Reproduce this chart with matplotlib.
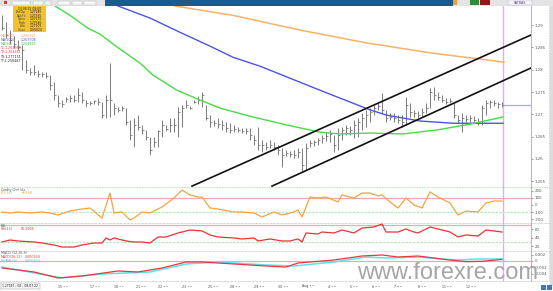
import matplotlib
matplotlib.use("Agg")
import matplotlib.pyplot as plt
from matplotlib.patches import Rectangle
from matplotlib.lines import Line2D

W, H = 553, 291

# price bars, one per bar index
high = [1.2922, 1.2907, 1.2889, 1.2875, 1.2866, 1.2855, 1.2822, 1.2804, 1.2810, 1.2799,
        1.2795, 1.2795, 1.2788, 1.2772, 1.2743, 1.2732, 1.2739, 1.2743, 1.2743, 1.2759,
        1.2750, 1.2732, 1.2730, 1.2732, 1.2736, 1.2727, 1.2743, 1.2815, 1.2725, 1.2716,
        1.2719, 1.2714, 1.2687, 1.2692, 1.2698, 1.2676, 1.2665, 1.2649, 1.2649, 1.2665,
        1.2687, 1.2676, 1.2692, 1.2692, 1.2716, 1.2721, 1.2732, 1.2719, 1.2732, 1.2741,
        1.2750, 1.2721, 1.2698, 1.2687, 1.2692, 1.2687, 1.2683, 1.2681, 1.2676, 1.2672,
        1.2669, 1.2669, 1.2669, 1.2654, 1.2672, 1.2642, 1.2638, 1.2642, 1.2638, 1.2631,
        1.2624, 1.2620, 1.2618, 1.2620, 1.2624, 1.2624, 1.2636, 1.2642, 1.2642, 1.2647,
        1.2654, 1.2660, 1.2665, 1.2654, 1.2669, 1.2672, 1.2676, 1.2674, 1.2687, 1.2692,
        1.2703, 1.2710, 1.2714, 1.2721, 1.2727, 1.2748, 1.2710, 1.2703, 1.2703, 1.2698,
        1.2698, 1.2739, 1.2725, 1.2710, 1.2707, 1.2714, 1.2725, 1.2759, 1.2761, 1.2750,
        1.2743, 1.2736, 1.2736, 1.2725, 1.2698, 1.2703, 1.2698, 1.2698, 1.2696, 1.2692,
        1.2721, 1.2732, 1.2732, 1.2732, 1.2727, 1.2727]
low = [1.2889, 1.2871, 1.2857, 1.2848, 1.2844, 1.2799, 1.2792, 1.2788, 1.2788, 1.2784,
       1.2784, 1.2781, 1.2754, 1.2732, 1.2716, 1.2716, 1.2727, 1.2727, 1.2727, 1.2727,
       1.2725, 1.2716, 1.2721, 1.2723, 1.2721, 1.2692, 1.2692, 1.2694, 1.2698, 1.2705,
       1.2707, 1.2676, 1.2642, 1.2627, 1.2665, 1.2656, 1.2642, 1.2609, 1.2627, 1.2627,
       1.2649, 1.2663, 1.2660, 1.2660, 1.2649, 1.2672, 1.2714, 1.2712, 1.2725, 1.2723,
       1.2716, 1.2687, 1.2672, 1.2674, 1.2669, 1.2665, 1.2660, 1.2658, 1.2660, 1.2660,
       1.2658, 1.2656, 1.2642, 1.2631, 1.2620, 1.2616, 1.2620, 1.2624, 1.2620, 1.2609,
       1.2582, 1.2607, 1.2604, 1.2602, 1.2602, 1.2571, 1.2575, 1.2627, 1.2629, 1.2631,
       1.2636, 1.2640, 1.2638, 1.2616, 1.2620, 1.2642, 1.2654, 1.2654, 1.2647, 1.2649,
       1.2665, 1.2672, 1.2683, 1.2698, 1.2710, 1.2703, 1.2683, 1.2687, 1.2683, 1.2681,
       1.2672, 1.2676, 1.2694, 1.2694, 1.2692, 1.2694, 1.2703, 1.2714, 1.2732, 1.2732,
       1.2727, 1.2723, 1.2725, 1.2692, 1.2681, 1.2660, 1.2683, 1.2683, 1.2683, 1.2676,
       1.2676, 1.2698, 1.2714, 1.2719, 1.2714, 1.2716]
close = [1.2893, 1.2878, 1.2866, 1.2857, 1.2851, 1.2844, 1.2799, 1.2795, 1.2795, 1.2790,
         1.2790, 1.2786, 1.2766, 1.2743, 1.2725, 1.2723, 1.2734, 1.2736, 1.2732, 1.2743,
         1.2732, 1.2725, 1.2725, 1.2730, 1.2727, 1.2698, 1.2732, 1.2732, 1.2714, 1.2710,
         1.2714, 1.2683, 1.2654, 1.2676, 1.2672, 1.2665, 1.2649, 1.2620, 1.2638, 1.2663,
         1.2676, 1.2667, 1.2676, 1.2676, 1.2705, 1.2714, 1.2721, 1.2714, 1.2727, 1.2732,
         1.2743, 1.2692, 1.2683, 1.2681, 1.2678, 1.2676, 1.2669, 1.2665, 1.2667, 1.2665,
         1.2663, 1.2663, 1.2654, 1.2642, 1.2631, 1.2631, 1.2627, 1.2631, 1.2627, 1.2620,
         1.2609, 1.2613, 1.2611, 1.2609, 1.2616, 1.2586, 1.2624, 1.2636, 1.2638, 1.2642,
         1.2647, 1.2651, 1.2656, 1.2631, 1.2654, 1.2665, 1.2669, 1.2665, 1.2676, 1.2683,
         1.2692, 1.2698, 1.2705, 1.2714, 1.2719, 1.2710, 1.2692, 1.2694, 1.2692, 1.2687,
         1.2683, 1.2721, 1.2705, 1.2703, 1.2698, 1.2705, 1.2714, 1.2750, 1.2743, 1.2739,
         1.2732, 1.2727, 1.2730, 1.2698, 1.2687, 1.2692, 1.2689, 1.2692, 1.2687, 1.2683,
         1.2714, 1.2725, 1.2727, 1.2725, 1.2723, 1.2721]
bar_idx = list(range(len(high)))

# moving averages
ma55_i = [10.75, 13.25, 17, 21.5, 24.5, 28.75, 34.5, 37.75, 43.75, 49.5, 54.5, 62.75,
          71.25, 79.5, 84.5, 92, 100.25, 108.75, 117, 125.25]
ma55_v = [1.2954, 1.2943, 1.2922, 1.2893, 1.2880, 1.2851, 1.2815, 1.2788, 1.2754, 1.2732,
          1.2714, 1.2694, 1.2676, 1.2660, 1.2656, 1.2658, 1.2656, 1.2665, 1.2678, 1.2694]
ma100_i = [27, 29, 37, 44.5, 52, 57.75, 64.5, 72, 79.5, 87.75, 92, 96.25, 104.5, 112.75, 125.25]
ma100_v = [1.2956, 1.2943, 1.2916, 1.2884, 1.2853, 1.2828, 1.2808, 1.2781, 1.2754, 1.2725,
           1.2710, 1.2698, 1.2685, 1.2680, 1.2680]
ma200_i = [39.5, 43.25, 57.75, 74.5, 91.25, 107.75, 119.5, 125.5]
ma200_v = [1.2956, 1.2943, 1.2922, 1.2889, 1.2860, 1.2837, 1.2824, 1.2817]

# trend channel
chan_up_i = [47.5, 132.25]
chan_up_v = [1.2539, 1.2878]
chan_lo_i = [67.5, 132.25]
chan_lo_v = [1.2539, 1.2804]
last_price = 1.2721
last_bar = 125.25

cci_i = [0, 2, 4, 7, 10, 12, 14, 17, 20, 22, 25, 27, 28, 30, 32, 33, 35, 37, 40, 43,
         45, 47, 49, 50, 52, 54, 58, 60, 63, 65, 68, 70, 73, 74, 75, 77, 79, 81, 84, 85,
         88, 90, 92, 94, 95, 97, 99, 101, 103, 105, 107, 109, 112, 114, 116, 119, 121, 123, 125]
cci_v = [-100, -114, -100, -114, -100, -114, -143, -86, -57, -43, -186, 171, -114, -100, -214,
         -186, -100, -114, -29, 100, 214, 143, 114, 114, -43, -57, -100, -100, -114, -171,
         -100, -143, -100, -71, -171, 114, 100, 114, 43, 143, 100, 171, 171, 129, 143, 43,
         -43, 100, 0, -43, 186, 114, 29, -143, -86, -100, 29, 57, 57]

rsi_i = [0, 2, 4, 8, 10, 13, 15, 18, 20, 23, 25, 26, 27, 28, 30, 31, 33, 35, 37, 39,
         41, 44, 45, 47, 50, 52, 54, 58, 60, 63, 64, 67, 70, 72, 74, 75, 76, 79, 80, 83,
         85, 88, 90, 93, 95, 96, 98, 99, 101, 103, 104, 107, 109, 112, 114, 116, 119, 121, 123, 125]
rsi_v = [30.0, 34.7, 32.4, 30.0, 27.6, 22.9, 18.2, 18.2, 22.9, 27.6, 27.6, 39.4, 34.7, 39.4,
         34.7, 32.4, 30.0, 30.0, 27.6, 41.8, 41.8, 51.2, 53.5, 58.2, 56.0, 46.5, 41.8, 39.4,
         37.1, 39.4, 32.4, 37.1, 32.4, 32.4, 37.1, 30.0, 51.2, 48.8, 53.5, 51.2, 58.2, 51.2,
         62.9, 65.3, 72.4, 53.5, 53.5, 53.5, 60.6, 53.5, 51.2, 65.3, 60.6, 53.5, 41.8, 46.5,
         44.1, 58.2, 55.9, 53.5]

macd_i = [0, 8, 14, 20, 29, 34, 40, 46, 50, 58, 66, 71, 74, 83, 90, 95, 99, 104, 108, 112,
          116, 120, 125]
macd_v = [-0.00215, -0.00338, -0.00523, -0.00462, -0.00308, -0.00338, -0.00215, -0.00031,
          -0.00031, -0.00092, -0.00154, -0.00185, -0.00062, 0.00031, 0.00154, 0.00185,
          0.00123, 0.00154, 0.00092, 0.00030, -0.00020, -0.00010, 0.00050]
sig_i = [0, 15, 25, 37, 46, 54, 66, 73, 83, 91, 96, 104, 110, 114, 119, 125]
sig_v = [-0.00185, -0.00523, -0.00400, -0.00338, -0.00092, -0.00031, -0.00123, -0.00154,
         -0.00031, 0.00123, 0.00092, 0.00123, 0.00062, 0.00031, 0.00062, 0.00060]

price_ticks = [1.255, 1.26, 1.265, 1.27, 1.275, 1.28, 1.285, 1.29]
price_tick_txt = ["1.255", "1.26", "1.265", "1.27", "1.275", "1.28", "1.285", "1.29"]

date_pos = [14, 22, 28, 33.5, 39, 45, 51.5, 57, 63, 69, 75, 81.5, 87, 92.5, 98, 104, 110, 116]
date_txt = ["15", "17", "18", "21", "22", "23", "25", "28", "29", "30", "Aug",
            "4", "5", "6", "7", "8", "11", "12"]

fig = plt.figure(figsize=(W / 100, H / 100), dpi=100)
fig.patch.set_facecolor("white")


def px_axes(x0, y0, x1, y1):
    return fig.add_axes([x0 / W, 1 - y1 / H, (x1 - x0) / W, (y1 - y0) / H])


def px_rect(x, y, w, h, color, **kw):
    fig.add_artist(Rectangle((x / W, 1 - (y + h) / H), w / W, h / H,
                             transform=fig.transFigure, facecolor=color,
                             edgecolor=kw.pop("ec", "none"), lw=kw.pop("lw", 0.3), **kw))


def px_line(x0, y0, x1, y1, color, **kw):
    fig.add_artist(Line2D([x0 / W, x1 / W], [1 - y0 / H, 1 - y1 / H],
                          transform=fig.transFigure, color=color, **kw))


def px_text(x, y, s, **kw):
    fig.text(x / W, 1 - y / H, s, **kw)


def style_panel(ax, ticks, labels, ylim):
    ax.set_xlim(-0.5, 132.25)
    ax.set_ylim(*ylim)
    ax.set_facecolor("white")
    for s in ["left", "top", "bottom"]:
        ax.spines[s].set_visible(False)
    ax.spines["right"].set_color("#9a9a9a")
    ax.spines["right"].set_linewidth(0.5)
    ax.set_xticks([])
    ax.yaxis.tick_right()
    ax.set_yticks(ticks)
    ax.set_yticklabels(labels)
    ax.tick_params(axis="y", labelsize=2.8, length=1.5, width=0.4, pad=1,
                   colors="#555555")
    ax.axvline(last_bar, color="#d8b4e6", lw=1.0)


# main price panel
ax = px_axes(0, 6, 531, 187)
style_panel(ax, price_ticks, price_tick_txt, (1.2537, 1.2943))
ax.vlines(bar_idx, low, high, color="#7a7a7a", lw=0.7)
ax.hlines(close, [i for i in bar_idx], [i + 0.45 for i in bar_idx], color="#7a7a7a", lw=0.6)
ax.plot(ma200_i, ma200_v, color="#f6b26b", lw=1.1)
ax.plot(ma100_i, ma100_v, color="#4a55e8", lw=1.0)
ax.plot(ma55_i, ma55_v, color="#44dd44", lw=1.0)
ax.plot(chan_up_i, chan_up_v, color="#111111", lw=1.2)
ax.plot(chan_lo_i, chan_lo_v, color="#111111", lw=1.2)
ax.hlines(last_price, last_bar, 132.25, color="#a8a8f0", lw=0.9)

# CCI
ax2 = px_axes(0, 187, 531, 223)
style_panel(ax2, [-200, -100, 0, 100, 200], ["-200.", "-100", "0", "100", "200."], (-257, 257))
ax2.axhline(100, color="#f0a8b0", lw=0.9)
ax2.axhline(-100, color="#b8e8b8", lw=0.9, ls=(0, (2, 1)))
ax2.plot(cci_i, cci_v, color="#f5a346", lw=0.9)

# RSI
ax3 = px_axes(0, 223, 531, 251)
style_panel(ax3, [20, 40, 60], ["20.", "40.", "60."], (8.8, 74.7))
ax3.axhline(70, color="#f0a8b0", lw=0.9)
ax3.axhline(30, color="#b8e8b8", lw=0.9, ls=(0, (2, 1)))
ax3.plot(rsi_i, rsi_v, color="#ee3333", lw=0.9)

# MACD
ax4 = px_axes(0, 251, 531, 281)
style_panel(ax4, [-0.004, -0.002, 0, 0.002], ["-0.004", "-0.002", "0", "0.002"],
            (-0.00616, 0.00308))
ax4.axhline(0, color="#f0a8b0", lw=0.9)
ax4.plot(sig_i, sig_v, color="#55e5ee", lw=1.1)
ax4.plot(macd_i, macd_v, color="#ee3344", lw=0.9)

# panel borders
px_line(0, 187, 549, 187, "#9ad89a", lw=0.6, ls=(0, (1, 1)))
px_line(0, 223, 549, 223, "#aaaaaa", lw=0.5, ls=(0, (1, 1)))
px_line(0, 251, 549, 251, "#aaaaaa", lw=0.5, ls=(0, (1, 1)))
px_line(0, 281, 549, 281, "#aaaaaa", lw=0.5, ls=(0, (1, 1)))
px_line(549, 6, 549, 281, "#9ad89a", lw=0.6, ls=(0, (1, 1)))
px_rect(550, 6, 3, 280, "#dcdcdc")

# toolbar
px_rect(0, 0, 553, 5.5, "#e4e4e4")
px_rect(105, 0, 348, 5.5, "#1d5a8c")
for bx, bw in [(2, 8), (12, 18), (33, 10), (45, 6), (58, 12), (72, 10), (84, 12)]:
    px_rect(bx, 0.8, bw, 3.8, "#f7f7f7", ec="#b0b0b0", lw=0.3)
px_rect(4, 1.2, 3, 3, "#d23a3a")
px_rect(453, 0.5, 4, 4.5, "#f0a030")
px_rect(470, 0.5, 9, 4.5, "#2e8b3a")
px_rect(480, 0.5, 10, 4.5, "#8b1a1a")
px_rect(508, 0.5, 24, 4.5, "#f4f4fa", ec="#b0b0c8", lw=0.3)
px_text(520, 2.8, "PATRAS", fontsize=2.4, color="#5a3c8c", ha="center", va="center")

# OHLC info box
px_rect(13, 6, 33, 26, "#f2c12e")
px_text(29.5, 8.6, "13:38:15 08:00", fontsize=2.2, color="#222222", ha="center", va="center")
for k, (lab, val) in enumerate([("Bid/Op", "1.27185"), ("Ask/Hi", "1.27335"), ("Open", "1.27175"),
                                 ("High", "1.27340"), ("Low", "1.27105"), ("Close", "0.00024")]):
    yy = 12.3 + k * 3.5
    px_text(26, yy, lab, fontsize=2.2, color="#444444", ha="right", va="center")
    px_text(30, yy, val, fontsize=2.2, color="#222222", ha="left", va="center")

# indicator legend
legend_rows = [("MA(200)", "1.285713", "#f0a040"), ("MA(100)", "1.267708", "#4a55e8"),
               ("MA(55)", "1.264425", "#33cc33"), ("T1:1.269959", "", "#ee3333"),
               ("T2:1.264611", "", "#ee3333"), ("T3:1.277151", "", "#222222"),
               ("T?:1.258487", "", "#222222")]
for k, (a, b, c) in enumerate(legend_rows):
    yy = 36 + k * 4.1
    px_text(1, yy, a, fontsize=2.3, color=c, va="center")
    if b:
        px_text(21, yy, b, fontsize=2.3, color=c, va="center")

px_text(1, 189.5, "Cmdty Chnl Idx", fontsize=2.3, color="#555555", va="center")
px_text(1, 193, "CCI(14)", fontsize=2.3, color="#f0a040", va="center")
px_text(21, 193, "+69.66", fontsize=2.3, color="#f0a040", va="center")
px_text(1, 226, "RSI", fontsize=2.3, color="#555555", va="center")
px_text(1, 229.5, "RSI(14)", fontsize=2.3, color="#ee3333", va="center")
px_text(21, 229.5, "55.3306", fontsize=2.3, color="#ee3333", va="center")
px_text(1, 253.5, "MACD (12,26,9)", fontsize=2.3, color="#555555", va="center")
px_text(1, 257, "MACD(26,12)", fontsize=2.3, color="#ee3333", va="center")
px_text(25, 257, "0.000634", fontsize=2.3, color="#ee3333", va="center")
px_text(1, 260.5, "SIGNAL(9)", fontsize=2.3, color="#33c8d8", va="center")
px_text(25, 260.5, "0.000634", fontsize=2.3, color="#33c8d8", va="center")

# date axis
px_rect(0, 283, 40, 6, "#f4f4f4", ec="#999999", lw=0.3)
px_text(1.5, 286, "1.27187 - 08 - 08:07:22", fontsize=2.2, color="#222222", va="center")
for p, t in zip(date_pos, date_txt):
    xp = 2 + 4 * p
    px_text(xp, 286.5, t + " \u2022 \u2022", fontsize=2.3, color="#444444", va="center")
px_rect(541, 285, 5, 5, "#3a78c8")
px_rect(547, 285, 5, 5, "#3a78c8")

# watermark
px_text(448, 273, "www.forexre.com", fontsize=17, color="#a6a6a6", ha="center", va="center",
        family="Liberation Sans")

fig.savefig("out.png", dpi=100)
